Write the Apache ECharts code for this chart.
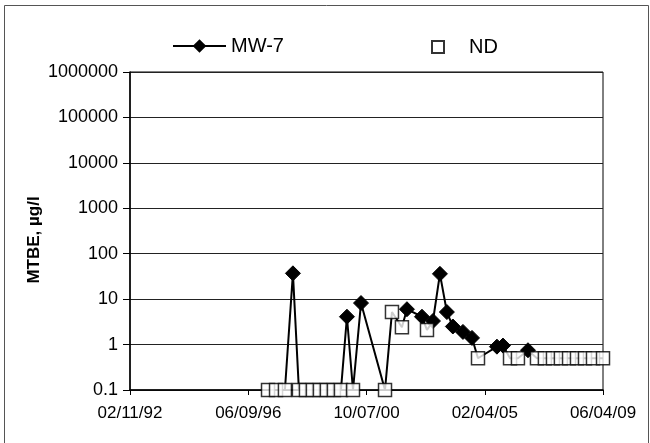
<!DOCTYPE html>
<html><head><meta charset="utf-8">
<script src="https://cdn.jsdelivr.net/npm/echarts@6/dist/echarts.min.js"></script>
<style>html,body{margin:0;padding:0;background:#fff}#c{width:650px;height:443px}</style>
</head><body><div id="c"></div>
<script>
// Axis range, tick labels and titles
const xStart = '1992-02-11';
const xEnd = '2009-06-04';
const xTickLabels = ['02/11/92', '06/09/96', '10/07/00', '02/04/05', '06/04/09'];
const yTickLabels = ['0.1', '1', '10', '100', '1000', '10000', '100000', '1000000'];
const yTitle = 'MTBE, µg/l';

// MW-7 detections
const mw7Dates = ['1998-01-28', '2000-01-20', '2000-07-26', '2002-04-01', '2002-10-19', '2003-03-15',
  '2003-06-16', '2003-09-17', '2003-12-06', '2004-04-19', '2004-08-18', '2005-07-17', '2005-10-06', '2006-09-05'];
const mw7Values = [37, 4.1, 8.2, 6.0, 4.1, 3.3, 36, 5.2, 2.5, 1.9, 1.4, 0.9, 0.95, 0.75];

// Non-detects (plotted at reporting limit)
const ndDates = ['1997-03-01', '1997-06-16', '1997-10-13', '1998-04-18', '1998-07-21', '1998-10-22',
  '1999-01-24', '1999-04-27', '1999-07-30', '1999-11-01', '2000-04-10', '2001-06-12', '2001-09-13',
  '2002-01-24', '2002-12-25', '2004-11-06', '2006-01-08', '2006-04-24', '2007-01-03', '2007-04-19',
  '2007-08-05', '2007-11-19', '2008-03-07', '2008-06-21', '2008-10-06', '2009-01-21', '2009-06-04'];
const ndValues = [0.1, 0.1, 0.1, 0.1, 0.1, 0.1, 0.1, 0.1, 0.1, 0.1, 0.1, 0.1, 5.2,
  2.4, 2.1, 0.5, 0.5, 0.5, 0.5, 0.5, 0.5, 0.5, 0.5, 0.5, 0.5, 0.5, 0.5];

const DAY = 86400000;
const t0 = Date.parse(xStart);
const toDays = d => (Date.parse(d) - t0) / DAY;
const xMax = toDays(xEnd);
const xInterval = xMax / (xTickLabels.length - 1);

const all = [];
mw7Dates.forEach((d, i) => all.push({ x: toDays(d), y: mw7Values[i], nd: false }));
ndDates.forEach((d, i) => all.push({ x: toDays(d), y: ndValues[i], nd: true }));
all.sort((a, b) => a.x - b.x);
const lineData = all.map(p => p.nd ? { value: [p.x, p.y], symbol: 'none' } : { value: [p.x, p.y] });
const ndData = ndDates.map((d, i) => [toDays(d), ndValues[i]]);

const FONT = 'Liberation Sans, Arial, sans-serif';
const chart = echarts.init(document.getElementById('c'), null, { renderer: 'canvas' });
chart.setOption({
  backgroundColor: '#fff',
  animation: false,
  graphic: [{
    type: 'polyline', silent: true, z: -10,
    shape: { points: [[4.5, 450], [4.5, 5.5], [648.5, 5.5], [648.5, 450]] },
    style: { fill: 'none', stroke: '#555', lineWidth: 1 }
  }, {
    type: 'text', silent: true, x: 34, y: 240, rotation: Math.PI / 2,
    style: { text: yTitle, font: 'bold 17px Liberation Sans, Arial, sans-serif', fill: '#000',
      align: 'center', verticalAlign: 'middle', textAlign: 'center', textVerticalAlign: 'middle' }
  }],
  legend: [{
    data: ['MW-7'], left: 167, top: 31, itemWidth: 53, itemHeight: 17,
    textStyle: { fontFamily: FONT, fontSize: 20, color: '#000' }
  }, {
    data: ['ND'], left: 426, top: 32, itemWidth: 12, itemHeight: 12,
    textStyle: { fontFamily: FONT, fontSize: 20, color: '#000', padding: [0, 0, 0, 20] }
  }],
  grid: { left: 130, right: 47, top: 72, bottom: 53, show: true, borderColor: '#000', borderWidth: 1, containLabel: false, outerBoundsMode: 'none' },
  xAxis: {
    type: 'value', min: 0, max: xMax, interval: xInterval,
    axisLine: { show: true, onZero: false, lineStyle: { color: '#000', width: 1.5 } },
    axisTick: { show: true, inside: false, length: 5, lineStyle: { color: '#000' } },
    splitLine: { show: false },
    axisLabel: {
      fontFamily: FONT, fontSize: 17, color: '#000', margin: 15,
      formatter: v => xTickLabels[Math.round(v / xInterval)] || ''
    }
  },
  yAxis: {
    type: 'log', logBase: 10, min: 0.1, max: 1000000,
    axisLine: { show: true, lineStyle: { color: '#000', width: 1.5 } },
    axisTick: { show: true, inside: false, length: 7, lineStyle: { color: '#000' } },
    splitLine: { show: true, lineStyle: { color: '#222', width: 1 } },
    minorTick: { show: false },
    axisLabel: {
      fontFamily: FONT, fontSize: 18, color: '#000', margin: 12,
      formatter: v => yTickLabels[Math.round(Math.log10(v)) + 1] || ''
    }
  },
  series: [{
    name: 'MW-7', type: 'line', data: lineData,
    symbol: 'diamond', symbolSize: 15,
    lineStyle: { color: '#000', width: 2 },
    itemStyle: { color: '#000', borderColor: '#000' },
    z: 2
  }, {
    name: 'ND', type: 'scatter', data: ndData,
    symbol: 'rect', symbolSize: 13,
    itemStyle: { color: '#fff', borderColor: '#000', borderWidth: 1.5 },
    z: 3
  }]
});
</script></body></html>
